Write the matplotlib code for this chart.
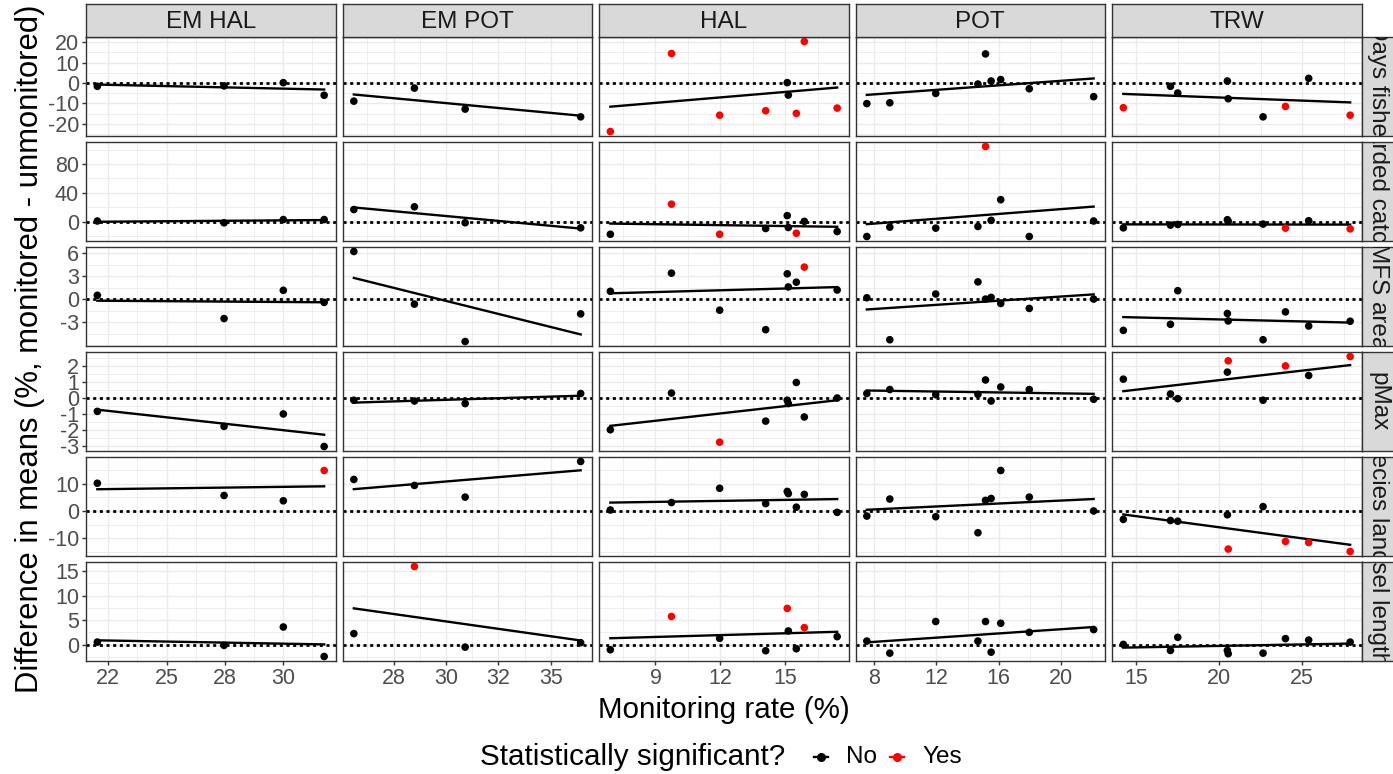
import numpy as np
import matplotlib.pyplot as plt
from matplotlib.ticker import FixedLocator, MultipleLocator
from matplotlib.lines import Line2D

plt.rcParams['font.family'] = ['Liberation Sans', 'DejaVu Sans']

# facets
cols = ["EM HAL", "EM POT", "HAL", "POT", "TRW"]
rows = ["Days fished", "Discarded catch (%)", "MFS area", "pMax",
        "Species landed", "Vessel length (ft)"]

# monitoring rate (%) per fleet
rate_em_hal = [22.03, 27.46, 30.0, 31.75]
rate_em_pot = [25.6, 28.49, 30.91, 36.42]
rate_hal = [6.91, 9.74, 11.97, 14.1, 15.1, 15.15, 15.52, 15.89, 17.41]
rate_pot = [7.51, 8.99, 11.95, 14.67, 15.16, 15.52, 16.14, 17.98, 22.13]
rate_trw = [14.23, 17.07, 17.51, 20.5, 20.55, 22.65, 24.0, 25.4, 27.9]

# difference in means, one list per metric (rows order)
diff_em_hal = [
    [-1.6, -1.4, 0.2, -6.0],
    [1.0, -1.5, 3.0, 3.0],
    [0.49, -2.54, 1.14, -0.43],
    [-0.84, -1.78, -1.0, -3.04],
    [10.2, 5.7, 3.75, 14.9],
    [0.53, -0.14, 3.6, -2.4],
]
diff_em_pot = [
    [-8.9, -2.5, -12.8, -16.6],
    [16.9, 20.7, -1.4, -8.5],
    [6.2, -0.66, -5.53, -1.93],
    [-0.14, -0.19, -0.35, 0.28],
    [11.6, 9.4, 5.1, 18.2],
    [2.25, 15.9, -0.49, 0.41],
]
diff_hal = [
    [-23.8, 14.5, -15.8, -13.6, 0.2, -5.9, -14.9, 20.4, -12.3],
    [-17.4, 24.4, -17.4, -9.4, 8.5, -8.0, -16.0, 0.5, -13.6],
    [1.01, 3.38, -1.45, -3.99, 3.29, 1.58, 2.2, 4.17, 1.18],
    [-1.99, 0.31, -2.77, -1.45, -0.14, -0.35, 0.97, -1.19, 0.0],
    [0.37, 3.1, 8.35, 2.7, 7.2, 6.4, 1.4, 6.1, -0.5],
    [-1.02, 5.74, 1.29, -1.23, 7.38, 2.79, -0.82, 3.48, 1.64],
]
diff_pot = [
    [-10.1, -9.7, -5.1, -0.5, 14.3, 1.0, 1.7, -2.8, -6.7],
    [-20.5, -7.5, -8.9, -6.6, 104.4, 1.9, 30.6, -20.5, 1.0],
    [0.17, -5.3, 0.66, 2.24, 0.0, 0.22, -0.57, -1.22, 0.0],
    [0.28, 0.53, 0.21, 0.23, 1.13, -0.19, 0.69, 0.53, -0.08],
    [-1.87, 4.4, -2.1, -8.0, 3.9, 4.6, 14.9, 5.1, 0.0],
    [0.74, -1.72, 4.71, 0.74, 4.71, -1.52, 4.36, 2.52, 3.07],
]
diff_trw = [
    [-12.1, -1.6, -4.9, 1.0, -7.7, -16.6, -11.5, 2.3, -15.8],
    [-8.5, -4.7, -3.8, 2.8, 0.5, -3.3, -8.9, 1.4, -9.9],
    [-4.08, -3.29, 1.09, -1.88, -2.85, -5.3, -1.67, -3.51, -2.89],
    [1.18, 0.25, -0.04, 1.62, 2.33, -0.14, 2.01, 1.41, 2.6],
    [-3.1, -3.5, -3.75, -1.4, -14.0, 1.6, -11.2, -11.6, -14.9],
    [0.06, -1.17, 1.5, -1.17, -1.84, -1.72, 1.23, 0.94, 0.53],
]

# statistically significant? (1 = yes)
sig_em_hal = [[0, 0, 0, 0], [0, 0, 0, 0], [0, 0, 0, 0],
              [0, 0, 0, 0], [0, 0, 0, 1], [0, 0, 0, 0]]
sig_em_pot = [[0, 0, 0, 0], [0, 0, 0, 0], [0, 0, 0, 0],
              [0, 0, 0, 0], [0, 0, 0, 0], [0, 1, 0, 0]]
sig_hal = [
    [1, 1, 1, 1, 0, 0, 1, 1, 1],
    [0, 1, 1, 0, 0, 0, 1, 0, 0],
    [0, 0, 0, 0, 0, 0, 0, 1, 0],
    [0, 0, 1, 0, 0, 0, 0, 0, 0],
    [0, 0, 0, 0, 0, 0, 0, 0, 0],
    [0, 1, 0, 0, 1, 0, 0, 1, 0],
]
sig_pot = [[0] * 9, [0, 0, 0, 0, 1, 0, 0, 0, 0], [0] * 9,
           [0] * 9, [0] * 9, [0] * 9]
sig_trw = [
    [1, 0, 0, 0, 0, 0, 1, 0, 1],
    [0, 0, 0, 0, 0, 0, 1, 0, 1],
    [0] * 9,
    [0, 0, 0, 0, 1, 0, 1, 0, 1],
    [0, 0, 0, 0, 1, 0, 1, 1, 1],
    [0] * 9,
]

# axis breaks
x_breaks = [[22.5, 25, 27.5, 30], [27.5, 30, 32.5, 35], [9, 12, 15],
            [8, 12, 16, 20], [15, 20, 25]]
x_labels = [["22", "25", "28", "30"], ["28", "30", "32", "35"],
            ["9", "12", "15"], ["8", "12", "16", "20"], ["15", "20", "25"]]
x_minor = [1.25, 1.25, 1.5, 2, 2.5]
y_breaks = [[-20, -10, 0, 10, 20], [0, 40, 80], [-3, 0, 3, 6],
            [-3, -2, -1, 0, 1, 2], [-10, 0, 10], [0, 5, 10, 15]]
y_minor = [5, 20, 1.5, 0.5, 5, 2.5]

legend_labels = ["No", "Yes"]
legend_colors = ["black", "red"]

rates = [rate_em_hal, rate_em_pot, rate_hal, rate_pot, rate_trw]
diffs = [diff_em_hal, diff_em_pot, diff_hal, diff_pot, diff_trw]
sigs = [sig_em_hal, sig_em_pot, sig_hal, sig_pot, sig_trw]

W, H = 1393, 774
fig = plt.figure(figsize=(W / 100, H / 100), dpi=100)


def box(x0, y0, w, h):
    return [x0 / W, 1 - (y0 + h) / H, w / W, h / H]


def expand(vals):
    lo, hi = min(vals), max(vals)
    pad = 0.05 * (hi - lo)
    return lo - pad, hi + pad


left0, col_step, pw = 86, 256.5, 249.5
top0, row_step, ph = 37, 105, 99
border = "#333333"
grid_c = "#EBEBEB"

for j, row in enumerate(rows):
    ylo, yhi = expand(sum([d[j] for d in diffs], []))
    for i, col in enumerate(cols):
        ax = fig.add_axes(box(left0 + i * col_step, top0 + j * row_step, pw, ph))
        x = np.array(rates[i])
        y = np.array(diffs[i][j])
        c = [legend_colors[s] for s in sigs[i][j]]

        ax.axhline(0, color="black", lw=2.0, ls=(0, (1.1, 1.3)), zorder=2)
        b, a = np.polyfit(x, y, 1)
        xs = np.array([x.min(), x.max()])
        ax.plot(xs, a + b * xs, color="black", lw=1.7, zorder=3)
        ax.scatter(x, y, c=c, s=30, zorder=4, linewidths=0)

        ax.set_xlim(*expand(rates[i]))
        ax.set_ylim(ylo, yhi)
        ax.xaxis.set_major_locator(FixedLocator(x_breaks[i]))
        ax.xaxis.set_minor_locator(MultipleLocator(x_minor[i]))
        ax.yaxis.set_major_locator(FixedLocator(y_breaks[j]))
        ax.yaxis.set_minor_locator(MultipleLocator(y_minor[j]))
        ax.grid(which="major", color=grid_c, lw=1.0, zorder=0)
        ax.grid(which="minor", color=grid_c, lw=0.6, zorder=0)
        ax.set_axisbelow(True)
        for sp in ax.spines.values():
            sp.set_color(border)
            sp.set_linewidth(1.0)
        ax.tick_params(which="minor", length=0)
        ax.tick_params(which="major", color=border, length=3, width=1,
                       labelsize=15.5, labelcolor="#4D4D4D", pad=2)

        if j == len(rows) - 1:
            ax.set_xticklabels(x_labels[i])
        else:
            ax.tick_params(axis="x", length=0, labelbottom=False)
        if i == 0:
            ax.set_yticklabels([f"{v:g}" for v in y_breaks[j]])
        else:
            ax.tick_params(axis="y", length=0, labelleft=False)

        # top strips
        if j == 0:
            st = fig.add_axes(box(left0 + i * col_step, 4, pw, 33))
            st.set_facecolor("#D9D9D9")
            st.set_xticks([])
            st.set_yticks([])
            for sp in st.spines.values():
                sp.set_color(border)
                sp.set_linewidth(1.0)
            st.text(0.5, 0.45, col, transform=st.transAxes, ha="center",
                    va="center", fontsize=17.5, color="#1A1A1A")

    # right strips (labels clipped to the strip like in the original)
    rs = fig.add_axes(box(left0 + 4 * col_step + pw, top0 + j * row_step, 33, ph))
    rs.set_facecolor("#D9D9D9")
    rs.set_xticks([])
    rs.set_yticks([])
    for sp in rs.spines.values():
        sp.set_color(border)
        sp.set_linewidth(1.0)
    rs.text(0.5, 0.5, row, transform=rs.transAxes, ha="center", va="center",
            rotation=-90, fontsize=17.5, color="#1A1A1A", clip_on=True)

# axis titles
fig.text(723.5 / W, 1 - 710 / H, "Monitoring rate (%)", ha="center",
         va="center", fontsize=21.3)
fig.text(30 / W, 1 - 349 / H, "Difference in means (%, monitored - unmonitored)",
         ha="center", va="center", rotation=90, fontsize=22.3)

# legend
fig.text(480 / W, 1 - 757 / H, "Statistically significant?", ha="left",
         va="center", fontsize=21.3)
key_x = [821, 897]
for kx, lab, col in zip(key_x, legend_labels, legend_colors):
    fig.add_artist(Line2D([(kx - 7) / W, (kx + 7) / W], [1 - 757 / H] * 2,
                          color=col, lw=1.7, transform=fig.transFigure))
    fig.add_artist(Line2D([kx / W], [1 - 757 / H], color=col, marker="o",
                          ms=5.5, lw=0, transform=fig.transFigure))
    fig.text((kx + 25) / W, 1 - 757 / H, lab, ha="left", va="center",
             fontsize=17.5)

fig.savefig("out.png", dpi=100)
